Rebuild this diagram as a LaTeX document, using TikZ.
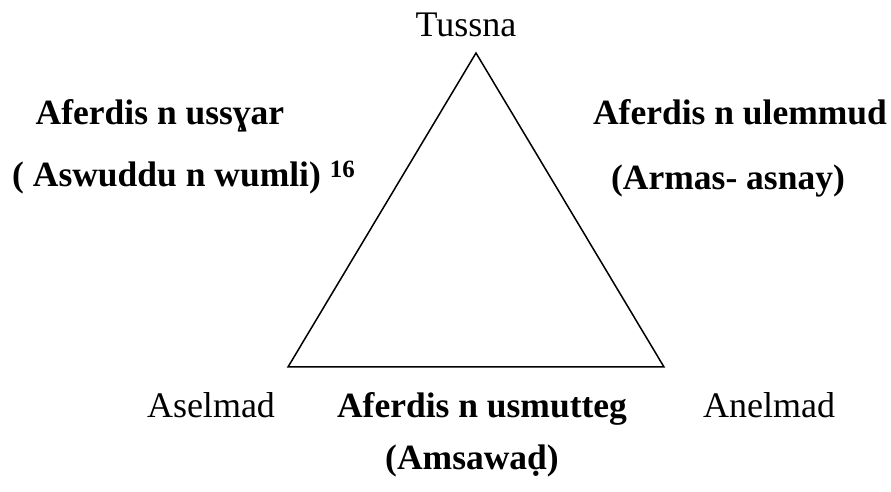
\documentclass[tikz,border=0pt]{standalone}
\usepackage{fontspec}
\setmainfont{Liberation Serif}[BoldFont={Liberation Serif Bold}]
\begin{document}
\begin{tikzpicture}[x=1pt,y=1pt,
  lbl/.style={inner sep=0pt,anchor=base,font=\fontsize{36}{40}\selectfont},
  side/.style={lbl,font=\fontsize{35.5}{40}\selectfont\bfseries}]
\useasboundingbox (0,0) rectangle (891,492);
\coordinate (top) at (476,439);
\coordinate (left) at (288,125);
\coordinate (right) at (664,125);
\draw[line width=1.5pt,line join=miter] (top)--(left)--(right)--cycle;
% corners
\node[lbl] (tussna) at (466,455) {Tussna};
\node[lbl] (aselmad) at (211,74) {Aselmad};
\node[lbl] (anelmad) at (769,74) {Anelmad};
% sides
\node[side] (ussyar) at (160,367) {Aferdis n ussɣar};
\node[side,anchor=base west] (aswuddu) at (12,305) {( Aswuddu n wumli) \textsuperscript{16}};
\node[side] (ulemmud) at (740,367) {Aferdis n ulemmud};
\node[side] (armas) at (728,302) {(Armas- asnay)};
\node[side] (usmutteg) at (482,74) {Aferdis n usmutteg};
\node[side] (amsawad) at (472,22) {(Amsawaḍ)};
\end{tikzpicture}
\end{document}
